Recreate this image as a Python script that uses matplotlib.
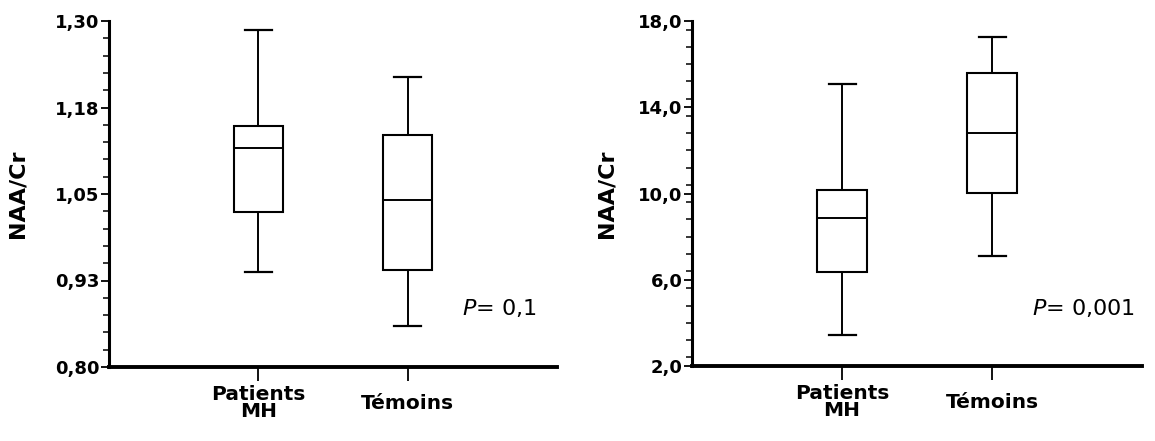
import matplotlib
matplotlib.use("Agg")
import matplotlib.pyplot as plt
from matplotlib.ticker import FixedLocator, MultipleLocator

categories = ["Patients\nMH", "Témoins"]

# Left panel (NAA/Cr)
left_whislo = [0.937, 0.859]
left_q1 = [1.024, 0.940]
left_med = [1.116, 1.041]
left_q3 = [1.148, 1.135]
left_whishi = [1.287, 1.219]
left_ticks = [0.80, 0.925, 1.05, 1.175, 1.30]
left_ticklabels = ["0,80", "0,93", "1,05", "1,18", "1,30"]
left_p = "0,1"

# Right panel (NAA/Cr)
right_whislo = [3.44, 7.10]
right_q1 = [6.36, 10.02]
right_med = [8.86, 12.81]
right_q3 = [10.16, 15.59]
right_whishi = [15.08, 17.26]
right_ticks = [2, 6, 10, 14, 18]
right_ticklabels = ["2,0", "6,0", "10,0", "14,0", "18,0"]
right_p = "0,001"

plt.rcParams['font.family'] = ['DejaVu Sans']
plt.rcParams['mathtext.fontset'] = 'dejavusans'

fig = plt.figure(figsize=(11.55, 4.41), dpi=100)
ax1 = fig.add_axes([109/1155, (441-367)/441, 448/1155, 346/441])
ax2 = fig.add_axes([692/1155, (441-366)/441, 450/1155, 345/441])


def draw(ax, wlo, q1, med, q3, whi, ticks, ticklabels, minor, ylim, ptxt,
         px, py, labx):
    stats = []
    for i in range(len(categories)):
        stats.append(dict(whislo=wlo[i], q1=q1[i], med=med[i], q3=q3[i],
                          whishi=whi[i], fliers=[]))
    ax.bxp(stats, positions=[1, 2], widths=0.33, capwidths=0.18,
           showfliers=False, patch_artist=True,
           boxprops=dict(facecolor='white', edgecolor='black', linewidth=1.5),
           medianprops=dict(color='black', linewidth=1.4),
           whiskerprops=dict(color='black', linewidth=1.4),
           capprops=dict(color='black', linewidth=1.6))
    ax.set_xlim(0, 3)
    ax.set_ylim(*ylim)
    for s in ['top', 'right']:
        ax.spines[s].set_visible(False)
    ax.spines['left'].set_linewidth(2.2)
    ax.spines['bottom'].set_linewidth(2.8)
    ax.yaxis.set_major_locator(FixedLocator(ticks))
    ax.set_yticklabels(ticklabels)
    ax.yaxis.set_minor_locator(MultipleLocator(minor))
    ax.tick_params(axis='y', which='major', length=6, width=1.3, pad=1,
                   labelsize=13)
    ax.tick_params(axis='y', which='minor', length=4, width=1.1)
    ax.set_xticks([1, 2])
    ax.set_xticklabels(categories)
    ax.tick_params(axis='x', which='major', length=10, width=1.3, pad=16,
                   labelsize=14.5)
    for lab in ax.get_xticklabels():
        lab.set_verticalalignment('center')
        lab.set_linespacing(0.85)
    for lab in ax.get_yticklabels() + ax.get_xticklabels():
        lab.set_fontweight('bold')
    ax.set_ylabel("NAA/Cr", fontsize=16, fontweight='bold')
    ax.yaxis.set_label_coords(labx, 0.5)
    ax.text(px, py, r"$P$= " + ptxt, transform=ax.transAxes, fontsize=16,
            va='baseline', ha='left')


draw(ax1, left_whislo, left_q1, left_med, left_q3, left_whishi,
     left_ticks, left_ticklabels, 0.025, (0.80, 1.30), left_p, 0.788, 0.150,
     -0.183)
draw(ax2, right_whislo, right_q1, right_med, right_q3, right_whishi,
     right_ticks, right_ticklabels, 0.8, (2, 18), right_p, 0.756, 0.148,
     -0.167)

fig.savefig("out.png", dpi=100)
